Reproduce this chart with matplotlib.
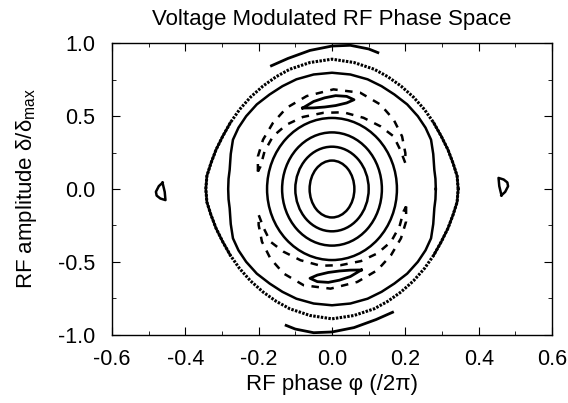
import numpy as np
import matplotlib
matplotlib.use("Agg")
import matplotlib.pyplot as plt
from matplotlib.patches import Ellipse

plt.rcParams['font.family'] = ['Liberation Sans', 'DejaVu Sans']
plt.rcParams['mathtext.fontset'] = 'custom'
plt.rcParams['mathtext.rm'] = 'Liberation Sans'

# inner closed orbits (half widths / half heights)
ring_hw = [0.061, 0.100, 0.136, 0.177]
ring_hh = [0.195, 0.290, 0.388, 0.487]

# outer solid orbit, first quadrant (mirrored)
solid_x = [0.283, 0.282, 0.279, 0.276, 0.270, 0.255, 0.234, 0.205, 0.170, 0.135, 0.097, 0.050, 0.0]
solid_y = [0.0, 0.070, 0.131, 0.240, 0.338, 0.420, 0.499, 0.580, 0.648, 0.705, 0.752, 0.785, 0.797]

# outer beaded orbit, first quadrant (mirrored)
dot_x = [0.344, 0.341, 0.330, 0.316, 0.298, 0.277, 0.252, 0.222, 0.188, 0.152, 0.115, 0.060, 0.0]
dot_y = [0.0, 0.090, 0.177, 0.270, 0.361, 0.455, 0.545, 0.630, 0.706, 0.770, 0.821, 0.867, 0.890]

# open arc at the top (bottom one is point-symmetric)
arc_x = [-0.165, -0.120, -0.060, 0.0, 0.050, 0.100, 0.125]
arc_y = [0.845, 0.895, 0.950, 0.980, 0.985, 0.960, 0.935]

# dashed island orbit around upper fixed point (outer edge then inner edge)
dash_x = [-0.202, -0.202, -0.188, -0.161, -0.124, -0.069, 0.004, 0.077, 0.132, 0.168, 0.191, 0.200, 0.200,
          0.186, 0.168, 0.132, 0.086, 0.031, -0.024, -0.079, -0.124, -0.161, -0.184, -0.195, -0.202]
dash_y = [0.120, 0.223, 0.338, 0.453, 0.556, 0.637, 0.683, 0.660, 0.579, 0.476, 0.361, 0.246, 0.177,
          0.269, 0.361, 0.430, 0.488, 0.526, 0.522, 0.494, 0.441, 0.361, 0.257, 0.154, 0.120]

# small lens around upper fixed point
lens_x = [-0.080, -0.050, -0.020, 0.010, 0.040, 0.060, 0.040, 0.010, -0.020, -0.050, -0.080]
lens_y = [0.555, 0.600, 0.625, 0.640, 0.635, 0.612, 0.590, 0.572, 0.562, 0.556, 0.555]

# small island near phase -0.46 (right one is point-symmetric)
isl_x = [-0.462, -0.472, -0.480, -0.478, -0.468, -0.454, -0.456, -0.462]
isl_y = [0.043, 0.020, -0.019, -0.045, -0.065, -0.076, -0.020, 0.043]

fig = plt.figure(figsize=(5.68, 4.03), dpi=100)
ax = fig.add_axes([0.197, 0.169, 0.775, 0.724])

lw = 1.8
for hw, hh in zip(ring_hw, ring_hh):
    ax.add_patch(Ellipse((0, 0), 2 * hw, 2 * hh, fill=False, lw=lw, color='black'))

def mirror(xs, ys):
    xs = np.asarray(xs); ys = np.asarray(ys)
    x = np.concatenate([xs, -xs[::-1], -xs, xs[::-1]])
    y = np.concatenate([ys, ys[::-1], -ys, -ys[::-1]])
    return x, y

sx, sy = mirror(solid_x, solid_y)
ax.plot(sx, sy, color='black', lw=lw)
bx, by = mirror(dot_x, dot_y)
ax.plot(bx, by, color='black', lw=2.2, ls=(0, (0.8, 0.45)))
side = np.where(np.abs(by) < 0.5, by, np.nan)
ax.plot(bx, side, color='black', lw=lw)

for sgn in (1, -1):
    ax.plot(sgn * np.array(arc_x), sgn * np.array(arc_y), color='black', lw=2.0)
    ax.plot(sgn * np.array(dash_x), sgn * np.array(dash_y), color='black', lw=lw, ls=(0, (3, 3)))
    ax.plot(sgn * np.array(lens_x), sgn * np.array(lens_y), color='black', lw=2.0)
    ax.plot(sgn * np.array(isl_x), sgn * np.array(isl_y), color='black', lw=lw)

ax.set_xlim(-0.6, 0.6)
ax.set_ylim(-1.0, 1.0)
ax.set_xticks(np.arange(-0.6, 0.61, 0.2))
ax.set_xticklabels(['-0.6', '-0.4', '-0.2', '0.0', '0.2', '0.4', '0.6'])
ax.set_yticks([-1.0, -0.5, 0.0, 0.5, 1.0])
ax.set_yticklabels(['-1.0', '-0.5', '0.0', '0.5', '1.0'])
ax.set_xticks(np.arange(-0.5, 0.6, 0.2), minor=True)
ax.set_yticks([-0.75, -0.25, 0.25, 0.75], minor=True)
ax.tick_params(which='both', direction='in', top=True, right=True, labelsize=15.5)
ax.tick_params(axis='x', which='major', pad=10)
ax.tick_params(axis='y', which='major', pad=12)
ax.tick_params(which='major', length=6)
ax.tick_params(which='minor', length=3)
for s in ax.spines.values():
    s.set_linewidth(1.0)

ax.set_title('Voltage Modulated RF Phase Space', fontsize=16, pad=13)
ax.set_xlabel('RF phase φ (/2π)', fontsize=16, labelpad=3)
ax.set_ylabel(r'RF amplitude δ/δ$_{\mathrm{max}}$', fontsize=16, labelpad=14)

fig.savefig('out.png', dpi=100)
